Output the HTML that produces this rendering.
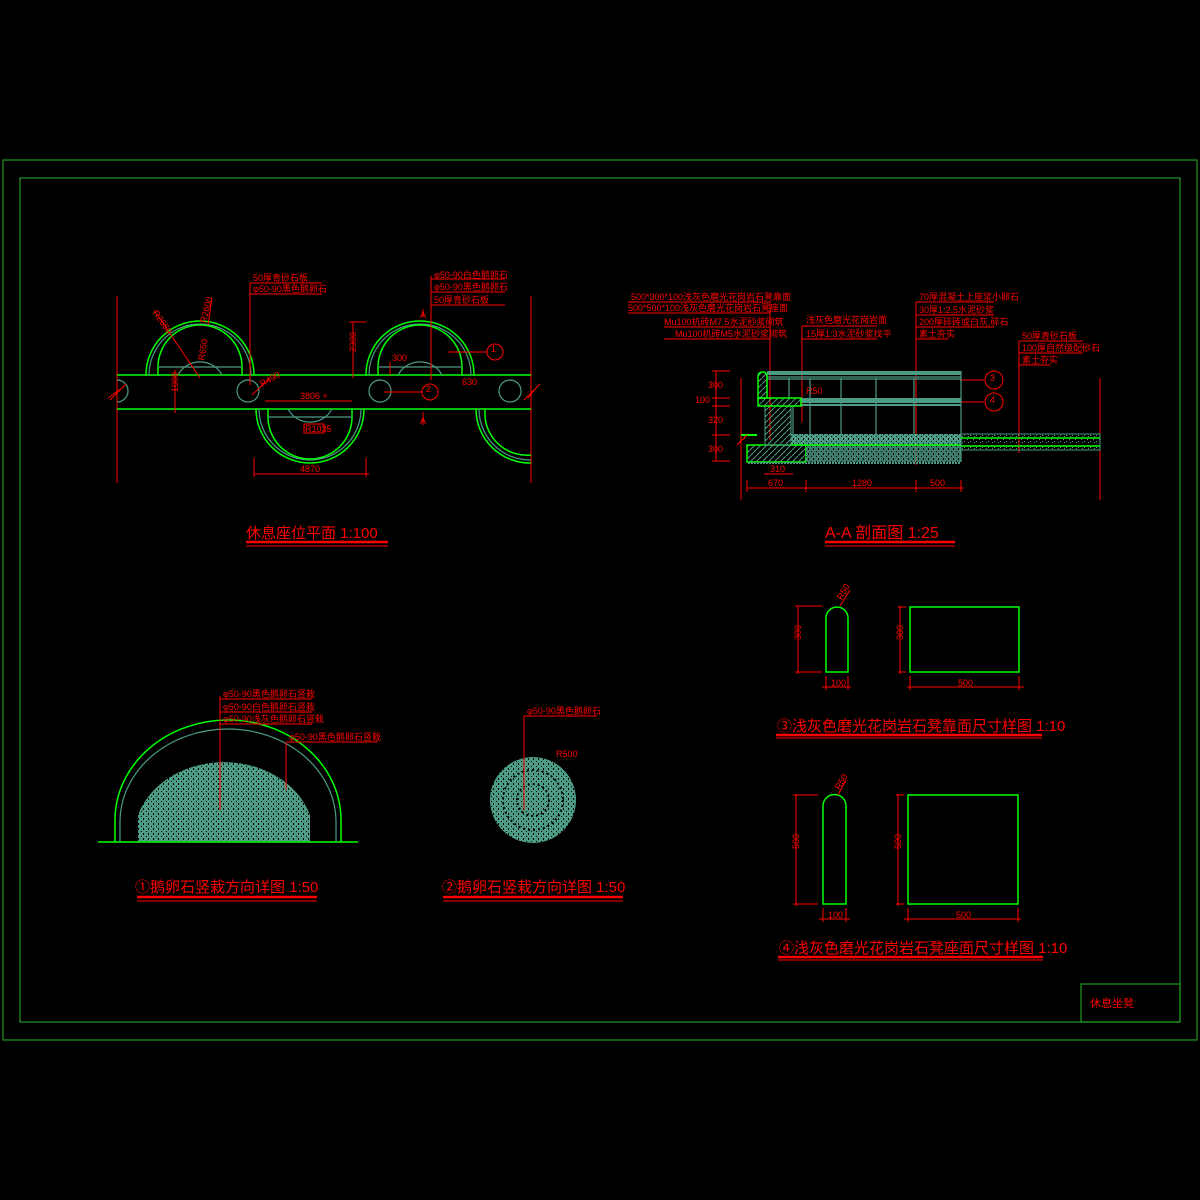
<!DOCTYPE html>
<html><head><meta charset="utf-8"><style>
html,body{margin:0;padding:0;background:#000;}
svg{display:block}
text{font-family:"Liberation Sans","Noto Sans CJK SC",sans-serif;fill:#ff0000;}
.r{stroke:#ff0000;fill:none;stroke-width:1}
.g{stroke:#00ff00;fill:none;stroke-width:1.5}
.t{stroke:#4c9b85;fill:none;stroke-width:1.2}
.s{font-size:9px}
.m{font-size:11px}
</style></head><body>
<svg width="1200" height="1200" viewBox="0 0 1200 1200" xmlns="http://www.w3.org/2000/svg">
<defs>
<pattern id="hat" width="6" height="6" patternUnits="userSpaceOnUse"><path d="M0 6L6 0" stroke="#4c9b85" stroke-width="1"/></pattern>
<pattern id="dot" width="5" height="5" patternUnits="userSpaceOnUse"><rect width="5" height="5" fill="#4c9b85"/><rect x="1" y="1" width="1" height="1" fill="#000"/><rect x="3" y="3" width="1" height="2" fill="#000"/></pattern>
<pattern id="grav" width="6" height="6" patternUnits="userSpaceOnUse"><rect x="1" y="1" width="1" height="1" fill="#4c9b85"/><rect x="4" y="3" width="1" height="1" fill="#4c9b85"/><rect x="2" y="4" width="1" height="1" fill="#4c9b85"/></pattern>
</defs>
<!-- frames -->
<rect x="3" y="160" width="1194" height="880" fill="none" stroke="#229922" stroke-width="1.2"/>
<rect x="20" y="178" width="1160" height="844" fill="none" stroke="#229922" stroke-width="1.2"/>
<rect x="1081" y="984" width="99" height="38" fill="none" stroke="#229922" stroke-width="1.2"/>
<text x="1090" y="1007" class="m">休息坐凳</text>

<!-- PLAN -->
<line x1="117" y1="296" x2="117" y2="483" class="r"/>
<line x1="531" y1="296" x2="531" y2="483" class="r"/>
<line x1="117" y1="375" x2="531" y2="375" class="g"/>
<line x1="117" y1="409" x2="531" y2="409" class="g"/>
<!-- upper semicircle 1 -->
<path d="M146 375 A54 54 0 0 1 254 375" class="g"/>
<path d="M149 375 A51 51 0 0 1 251 375" class="t"/>
<path d="M158 375 V367 A42 42 0 0 1 242 367 V375" class="g"/>
<path d="M158 367 H242" class="t"/>
<path d="M178 375 A25 25 0 0 1 222 375" class="t"/>
<!-- upper semicircle 2 -->
<path d="M366 375 A54 54 0 0 1 474 375" class="g"/>
<path d="M369 375 A51 51 0 0 1 471 375" class="t"/>
<path d="M378 375 V367 A42 42 0 0 1 462 367 V375" class="g"/>
<path d="M378 367 H462" class="t"/>
<path d="M398 375 A25 25 0 0 1 442 375" class="t"/>
<!-- lower semicircle -->
<path d="M256 409 A54 54 0 0 0 364 409" class="g"/>
<path d="M259 409 A51 51 0 0 0 361 409" class="t"/>
<path d="M268 409 V417 A42 42 0 0 0 352 417 V409" class="g"/>
<path d="M268 417 H352" class="t"/>
<path d="M288 409 A25 25 0 0 0 332 409" class="t"/>
<!-- partial right -->
<path d="M476 409 A54 54 0 0 0 531 463" class="g"/>
<path d="M479 409 A51 51 0 0 0 531 460" class="t"/>
<path d="M485 409 V417 A42 42 0 0 0 531 455" class="g"/>
<!-- circles -->
<circle cx="248" cy="391" r="11" class="t"/>
<circle cx="380" cy="391" r="11" class="t"/>
<circle cx="510" cy="391" r="11" class="t"/>
<path d="M117 380 A11 11 0 0 1 117 402" class="t"/>
<path d="M110 400 L126 384 M108 398 L122 388" class="r"/>
<path d="M524 400 L540 384 M528 398 L536 388" class="r"/>
<!-- plan annotations -->
<line x1="250" y1="283" x2="250" y2="385" class="r"/>
<line x1="250" y1="283" x2="322" y2="283" class="r"/>
<line x1="250" y1="294" x2="322" y2="294" class="r"/>
<text x="253" y="281" class="s">50厚青砂石板</text>
<text x="253" y="292" class="s">φ50-90黑色鹅卵石</text>
<line x1="431" y1="276" x2="431" y2="380" class="r"/>
<line x1="431" y1="279" x2="505" y2="279" class="r"/>
<line x1="431" y1="292" x2="505" y2="292" class="r"/>
<line x1="431" y1="305" x2="505" y2="305" class="r"/>
<text x="434" y="278" class="s">φ50-90白色鹅卵石</text>
<text x="434" y="290" class="s">φ50-90黑色鹅卵石</text>
<text x="434" y="303" class="s">50厚青砂石板</text>
<line x1="154" y1="310" x2="200" y2="378" class="r"/>
<line x1="212" y1="298" x2="208" y2="325" class="r"/>
<text x="154" y="320" class="s" transform="rotate(55 160 315)">R2650</text>
<text x="200" y="320" class="s" transform="rotate(-75 205 318)">R2600</text>
<text x="195" y="360" class="s" transform="rotate(-80 200 355)">R650</text>
<line x1="353" y1="322" x2="353" y2="378" class="r"/>
<line x1="349" y1="322" x2="366" y2="322" class="r"/>
<text x="350" y="358" class="s" transform="rotate(-90 350 352)">2300</text>
<line x1="175" y1="370" x2="175" y2="413" class="r"/>
<text x="172" y="398" class="s" transform="rotate(-90 172 392)">1000</text>
<line x1="252" y1="395" x2="270" y2="378" class="r"/>
<text x="260" y="385" class="s" transform="rotate(-30 265 382)">R490</text>
<line x1="265" y1="401" x2="352" y2="401" class="r"/>
<text x="300" y="399" class="s">3806 +</text>
<rect x="304" y="424" width="20" height="9" class="r"/>
<text x="305" y="432" class="s">R1035</text>
<line x1="254" y1="474" x2="369" y2="474" class="r"/>
<line x1="254" y1="458" x2="254" y2="477" class="r"/>
<line x1="366" y1="458" x2="366" y2="477" class="r"/>
<text x="300" y="472" class="s">4870</text>
<text x="392" y="361" class="s">300</text>
<line x1="390" y1="362" x2="390" y2="375" class="r"/>
<text x="462" y="385" class="s">630</text>
<line x1="423" y1="309" x2="423" y2="317" class="r"/><text x="420" y="318" class="s">A</text>
<line x1="423" y1="412" x2="423" y2="425" class="r"/><text x="420" y="424" class="s">A</text>
<line x1="448" y1="352" x2="487" y2="352" class="r"/>
<circle cx="495" cy="352" r="8" class="r"/><text x="491" y="352" class="s">1</text>
<line x1="384" y1="392" x2="422" y2="392" class="r"/>
<circle cx="430" cy="392" r="8" class="r"/><text x="426" y="392" class="s">2</text>
<text x="246" y="538" font-size="15">休息座位平面 1:100</text>
<line x1="246" y1="542" x2="388" y2="542" stroke="#f00" stroke-width="2.5"/>
<line x1="246" y1="546" x2="388" y2="546" class="r"/>

<!-- SECTION A-A -->
<g class="r">
<line x1="770" y1="302" x2="770" y2="440"/>
<line x1="628" y1="302" x2="770" y2="302"/>
<line x1="628" y1="313" x2="770" y2="313"/>
<line x1="664" y1="327" x2="770" y2="327"/>
<line x1="664" y1="339" x2="770" y2="339"/>
<line x1="802" y1="326" x2="802" y2="422"/>
<line x1="802" y1="326" x2="877" y2="326"/>
<line x1="802" y1="339" x2="877" y2="339"/>
<line x1="916" y1="302" x2="916" y2="465"/>
<line x1="916" y1="302" x2="994" y2="302"/>
<line x1="916" y1="315" x2="994" y2="315"/>
<line x1="916" y1="327" x2="994" y2="327"/>
<line x1="916" y1="339" x2="948" y2="339"/>
<line x1="1019" y1="341" x2="1019" y2="453"/>
<line x1="1019" y1="341" x2="1083" y2="341"/>
<line x1="1019" y1="353" x2="1083" y2="353"/>
<line x1="1019" y1="365" x2="1050" y2="365"/>
<line x1="741" y1="378" x2="741" y2="500"/>
<line x1="1100" y1="378" x2="1100" y2="500"/>
<line x1="716" y1="371" x2="716" y2="461"/>
<line x1="712" y1="371" x2="730" y2="371"/><line x1="712" y1="398" x2="730" y2="398"/>
<line x1="712" y1="406" x2="730" y2="406"/><line x1="712" y1="435" x2="730" y2="435"/><line x1="712" y1="461" x2="730" y2="461"/>
<line x1="747" y1="488" x2="964" y2="488"/>
<line x1="747" y1="480" x2="747" y2="492"/><line x1="806" y1="480" x2="806" y2="492"/>
<line x1="916" y1="480" x2="916" y2="492"/><line x1="961" y1="480" x2="961" y2="492"/>
<line x1="764" y1="474" x2="793" y2="474"/>
<line x1="960" y1="380" x2="984" y2="380"/><line x1="960" y1="402" x2="984" y2="402"/>
</g>
<g class="s">
<text x="631" y="300">500*300*100浅灰色磨光花岗岩石凳靠面</text>
<text x="628" y="311">500*500*100浅灰色磨光花岗岩石凳座面</text>
<text x="664" y="325">Mu100机砖M7.5水泥砂浆砌筑</text>
<text x="675" y="337">Mu100机砖M5水泥砂浆砌筑</text>
<text x="806" y="323">浅灰色磨光花岗岩面</text>
<text x="806" y="337">15厚1:3水泥砂浆找平</text>
<text x="919" y="300">70厚混凝土上座浆小卵石</text>
<text x="919" y="313">30厚1:2.5水泥砂浆</text>
<text x="919" y="325">200厚碎砖或白灰,碎石</text>
<text x="919" y="337">素土夯实</text>
<text x="1022" y="339">50厚青砂石板</text>
<text x="1022" y="351">100厚自然级配砂石</text>
<text x="1022" y="363">素土夯实</text>
<text x="708" y="388">300</text><text x="695" y="403">100</text><text x="708" y="423">320</text><text x="708" y="452">300</text>
<text x="768" y="486">670</text><text x="852" y="486">1280</text><text x="930" y="486">500</text><text x="770" y="472">310</text>
<text x="806" y="394">R50</text>
</g>
<circle cx="994" cy="380" r="9" class="r"/><text x="990" y="381" class="s">3</text>
<circle cx="994" cy="402" r="9" class="r"/><text x="990" y="403" class="s">4</text>
<!-- section shapes -->
<rect x="747" y="445" width="59" height="17" fill="url(#hat)" stroke="#00ff00" stroke-width="1.5"/>
<rect x="806" y="445" width="155" height="17" fill="url(#dot)" opacity="0.8"/>
<rect x="765" y="406" width="26" height="39" fill="url(#hat)" stroke="#4c9b85"/>
<rect x="791" y="434" width="170" height="11" fill="url(#dot)"/>
<line x1="791" y1="445" x2="961" y2="445" class="g"/>
<rect x="767" y="371" width="194" height="4" fill="#4c9b85"/>
<line x1="767" y1="377" x2="961" y2="377" class="t"/><line x1="767" y1="379" x2="961" y2="379" class="t"/>
<rect x="801" y="398" width="160" height="5" fill="#4c9b85"/>
<rect x="801" y="404" width="160" height="2" fill="#4c9b85"/>
<g class="t"><line x1="789" y1="378" x2="789" y2="398"/><line x1="810" y1="378" x2="810" y2="436"/><line x1="841" y1="378" x2="841" y2="436"/><line x1="876" y1="378" x2="876" y2="436"/><line x1="914" y1="378" x2="914" y2="436"/><line x1="961" y1="371" x2="961" y2="462"/><line x1="793" y1="406" x2="793" y2="436"/></g>
<path d="M758 398 V377 Q758 372 763 372 Q767 372 767 377 V398 Z" fill="url(#hat)" stroke="#00ff00" stroke-width="1.5"/>
<rect x="758" y="398" width="43" height="8" fill="url(#hat)" stroke="#00ff00" stroke-width="1.5"/>
<line x1="741" y1="435" x2="757" y2="435" stroke="#00ff00" stroke-width="2"/>
<rect x="961" y="434" width="139" height="16" fill="url(#grav)" stroke="#4c9b85"/>
<line x1="961" y1="438" x2="1100" y2="438" class="g"/>
<line x1="961" y1="446" x2="1100" y2="446" class="g"/>
<line x1="748" y1="463" x2="961" y2="463" stroke="#4c9b85" stroke-width="2" stroke-dasharray="2 1"/>
<path d="M737 445 L747 435 M739 442 L745 438" class="r"/>
<text x="825" y="538" font-size="16">A-A 剖面图 1:25</text>
<line x1="825" y1="542" x2="955" y2="542" stroke="#f00" stroke-width="2.5"/>
<line x1="825" y1="546" x2="955" y2="546" class="r"/>

<!-- DETAIL 1 -->
<path d="M115 842 V820 A113 100 0 0 1 341 820 V842" class="g"/>
<path d="M120 842 V822 A108 93 0 0 1 336 822 V842" class="t"/>
<path d="M138 842 V815 A90 75 0 0 1 310 815 V842 Z" fill="url(#dot)"/>
<line x1="98" y1="842" x2="358" y2="842" class="g"/>
<g class="r">
<line x1="220" y1="696" x2="220" y2="810"/>
<line x1="220" y1="699" x2="312" y2="699"/><line x1="220" y1="712" x2="312" y2="712"/><line x1="220" y1="724" x2="312" y2="724"/>
<line x1="286" y1="742" x2="286" y2="790"/><line x1="286" y1="742" x2="378" y2="742"/>
</g>
<g class="s">
<text x="223" y="697">φ50-90黑色鹅卵石竖栽</text>
<text x="223" y="710">φ50-90白色鹅卵石竖栽</text>
<text x="223" y="722">φ50-90浅灰色鹅卵石竖栽</text>
<text x="289" y="740">φ50-90黑色鹅卵石竖栽</text>
</g>
<text x="135" y="892" font-size="15">①鹅卵石竖栽方向详图 1:50</text>
<line x1="137" y1="897" x2="317" y2="897" stroke="#f00" stroke-width="2.5"/>
<line x1="137" y1="901" x2="317" y2="901" class="r"/>

<!-- DETAIL 2 -->
<circle cx="533" cy="800" r="43" fill="url(#dot)"/>
<circle cx="533" cy="800" r="30" fill="none" stroke="#000" stroke-width="2" stroke-dasharray="2 3"/>
<circle cx="533" cy="800" r="16" fill="none" stroke="#000" stroke-width="2" stroke-dasharray="2 3"/>
<line x1="524" y1="716" x2="524" y2="810" class="r"/>
<line x1="524" y1="716" x2="597" y2="716" class="r"/>
<text x="527" y="714" class="s">φ50-90黑色鹅卵石</text>
<text x="556" y="757" class="s">R500</text>
<text x="442" y="892" font-size="15">②鹅卵石竖栽方向详图 1:50</text>
<line x1="443" y1="897" x2="623" y2="897" stroke="#f00" stroke-width="2.5"/>
<line x1="443" y1="901" x2="623" y2="901" class="r"/>

<!-- DETAIL 3 -->
<path d="M826 672 V618 A11 11 0 0 1 848 618 V672 Z" class="g"/>
<rect x="910" y="607" width="109" height="65" class="g"/>
<g class="r">
<line x1="798" y1="606" x2="798" y2="674"/><line x1="795" y1="606" x2="822" y2="606"/><line x1="795" y1="672" x2="822" y2="672"/>
<line x1="822" y1="687" x2="851" y2="687"/><line x1="826" y1="676" x2="826" y2="690"/><line x1="848" y1="676" x2="848" y2="690"/>
<line x1="900" y1="606" x2="900" y2="674"/><line x1="898" y1="607" x2="906" y2="607"/><line x1="898" y1="672" x2="906" y2="672"/>
<line x1="907" y1="687" x2="1024" y2="687"/><line x1="910" y1="676" x2="910" y2="690"/><line x1="1019" y1="676" x2="1019" y2="690"/>
<line x1="840" y1="606" x2="850" y2="590"/>
</g>
<g class="s">
<text x="797" y="644" transform="rotate(-90 797 640)">300</text>
<text x="899" y="644" transform="rotate(-90 899 640)">300</text>
<text x="831" y="686">100</text><text x="958" y="686">500</text>
<text x="838" y="598" transform="rotate(-60 842 596)">R50</text>
</g>
<text x="777" y="731" font-size="15">③浅灰色磨光花岗岩石凳靠面尺寸样图 1:10</text>
<line x1="776" y1="735" x2="1042" y2="735" stroke="#f00" stroke-width="2.5"/>
<line x1="776" y1="738" x2="1042" y2="738" class="r"/>

<!-- DETAIL 4 -->
<path d="M823 904 V806 A11.5 11.5 0 0 1 846 806 V904 Z" class="g"/>
<rect x="908" y="795" width="110" height="109" class="g"/>
<g class="r">
<line x1="796" y1="794" x2="796" y2="906"/><line x1="793" y1="795" x2="818" y2="795"/><line x1="793" y1="904" x2="818" y2="904"/>
<line x1="819" y1="919" x2="850" y2="919"/><line x1="823" y1="908" x2="823" y2="922"/><line x1="846" y1="908" x2="846" y2="922"/>
<line x1="898" y1="794" x2="898" y2="906"/><line x1="896" y1="795" x2="904" y2="795"/><line x1="896" y1="904" x2="904" y2="904"/>
<line x1="904" y1="919" x2="1021" y2="919"/><line x1="908" y1="908" x2="908" y2="922"/><line x1="1018" y1="908" x2="1018" y2="922"/>
<line x1="838" y1="795" x2="846" y2="780"/>
</g>
<g class="s">
<text x="795" y="853" transform="rotate(-90 795 849)">500</text>
<text x="897" y="853" transform="rotate(-90 897 849)">500</text>
<text x="828" y="918">100</text><text x="956" y="918">500</text>
<text x="836" y="788" transform="rotate(-60 840 786)">R50</text>
</g>
<text x="779" y="953" font-size="15">④浅灰色磨光花岗岩石凳座面尺寸样图 1:10</text>
<line x1="778" y1="957" x2="1043" y2="957" stroke="#f00" stroke-width="2.5"/>
<line x1="778" y1="960" x2="1043" y2="960" class="r"/>
</svg>
</body></html>
